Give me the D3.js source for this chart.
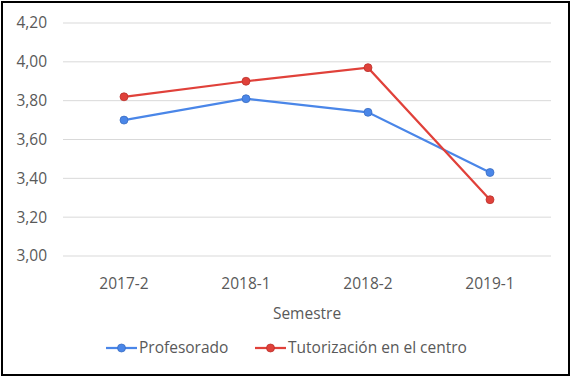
<!DOCTYPE html>
<html>
<head>
<meta charset="utf-8">
<script src="https://cdn.jsdelivr.net/npm/d3@7"></script>
<style>
  body { margin: 0; background: #fff; }
  text { font-family: "Open Sans", Lato, sans-serif; fill: #595959; font-size: 15.5px; }
</style>
</head>
<body>
<svg id="chart" width="572" height="378"></svg>
<script>
var semestres = ['2017-2', '2018-1', '2018-2', '2019-1'];
var profesorado = [3.70, 3.81, 3.74, 3.43];
var tutorizacion = [3.82, 3.90, 3.97, 3.29];
var yTicks = [3.0, 3.2, 3.4, 3.6, 3.8, 4.0, 4.2];

var series = [
    {name: 'Profesorado', values: profesorado, color: '#4a86e8', stroke: '#3a6cc0'},
    {name: 'Tutorización en el centro', values: tutorizacion, color: '#e0413a', stroke: '#b8302b'}
];

var svg = d3.select('#chart');

// outer frame
svg.append('rect')
    .attr('x', 2).attr('y', 2)
    .attr('width', 567).attr('height', 373)
    .attr('fill', 'none')
    .attr('stroke', '#000')
    .attr('stroke-width', 2);

var x = d3.scaleBand().domain(semestres).range([63, 551]);
var y = d3.scaleLinear().domain([3.0, 4.2]).range([256, 23]);

var fmt = function(v) { return d3.format('.2f')(v).replace('.', ','); };

// grid lines
svg.append('g').selectAll('line')
    .data(yTicks)
    .enter().append('line')
    .attr('x1', 63).attr('x2', 551)
    .attr('y1', function(d) { return y(d); })
    .attr('y2', function(d) { return y(d); })
    .attr('stroke', '#d9d9d9')
    .attr('stroke-width', 1);

// y labels
svg.append('g').selectAll('text')
    .data(yTicks)
    .enter().append('text')
    .attr('x', 47)
    .attr('y', function(d) { return y(d); })
    .attr('dy', '0.35em')
    .attr('text-anchor', 'end')
    .text(fmt);

// x labels
svg.append('g').selectAll('text')
    .data(semestres)
    .enter().append('text')
    .attr('x', function(d) { return x(d) + x.bandwidth() / 2; })
    .attr('y', 284)
    .attr('dy', '0.35em')
    .attr('text-anchor', 'middle')
    .text(function(d) { return d; });

svg.append('text')
    .attr('x', 307).attr('y', 314)
    .attr('dy', '0.35em')
    .attr('text-anchor', 'middle')
    .text('Semestre');

var line = d3.line()
    .x(function(d, i) { return x(semestres[i]) + x.bandwidth() / 2; })
    .y(function(d) { return y(d); });

series.forEach(function(s) {
    svg.append('path')
        .datum(s.values)
        .attr('d', line)
        .attr('fill', 'none')
        .attr('stroke', s.color)
        .attr('stroke-width', 2.25);

    svg.append('g').selectAll('circle')
        .data(s.values)
        .enter().append('circle')
        .attr('cx', function(d, i) { return x(semestres[i]) + x.bandwidth() / 2; })
        .attr('cy', function(d) { return y(d); })
        .attr('r', 4)
        .attr('fill', s.color)
        .attr('stroke', s.stroke)
        .attr('stroke-width', 0.75);
});

// legend
var legendX = [106, 255];
var legend = svg.append('g').selectAll('g')
    .data(series)
    .enter().append('g')
    .attr('transform', function(d, i) { return 'translate(' + legendX[i] + ',348)'; });

legend.append('line')
    .attr('x1', 0).attr('x2', 31)
    .attr('stroke', function(d) { return d.color; })
    .attr('stroke-width', 2.25);
legend.append('circle')
    .attr('cx', 15.5).attr('r', 4)
    .attr('fill', function(d) { return d.color; })
    .attr('stroke', function(d) { return d.stroke; })
    .attr('stroke-width', 0.75);
legend.append('text')
    .attr('x', 33)
    .attr('dy', '0.35em')
    .text(function(d) { return d.name; });
</script>
</body>
</html>
